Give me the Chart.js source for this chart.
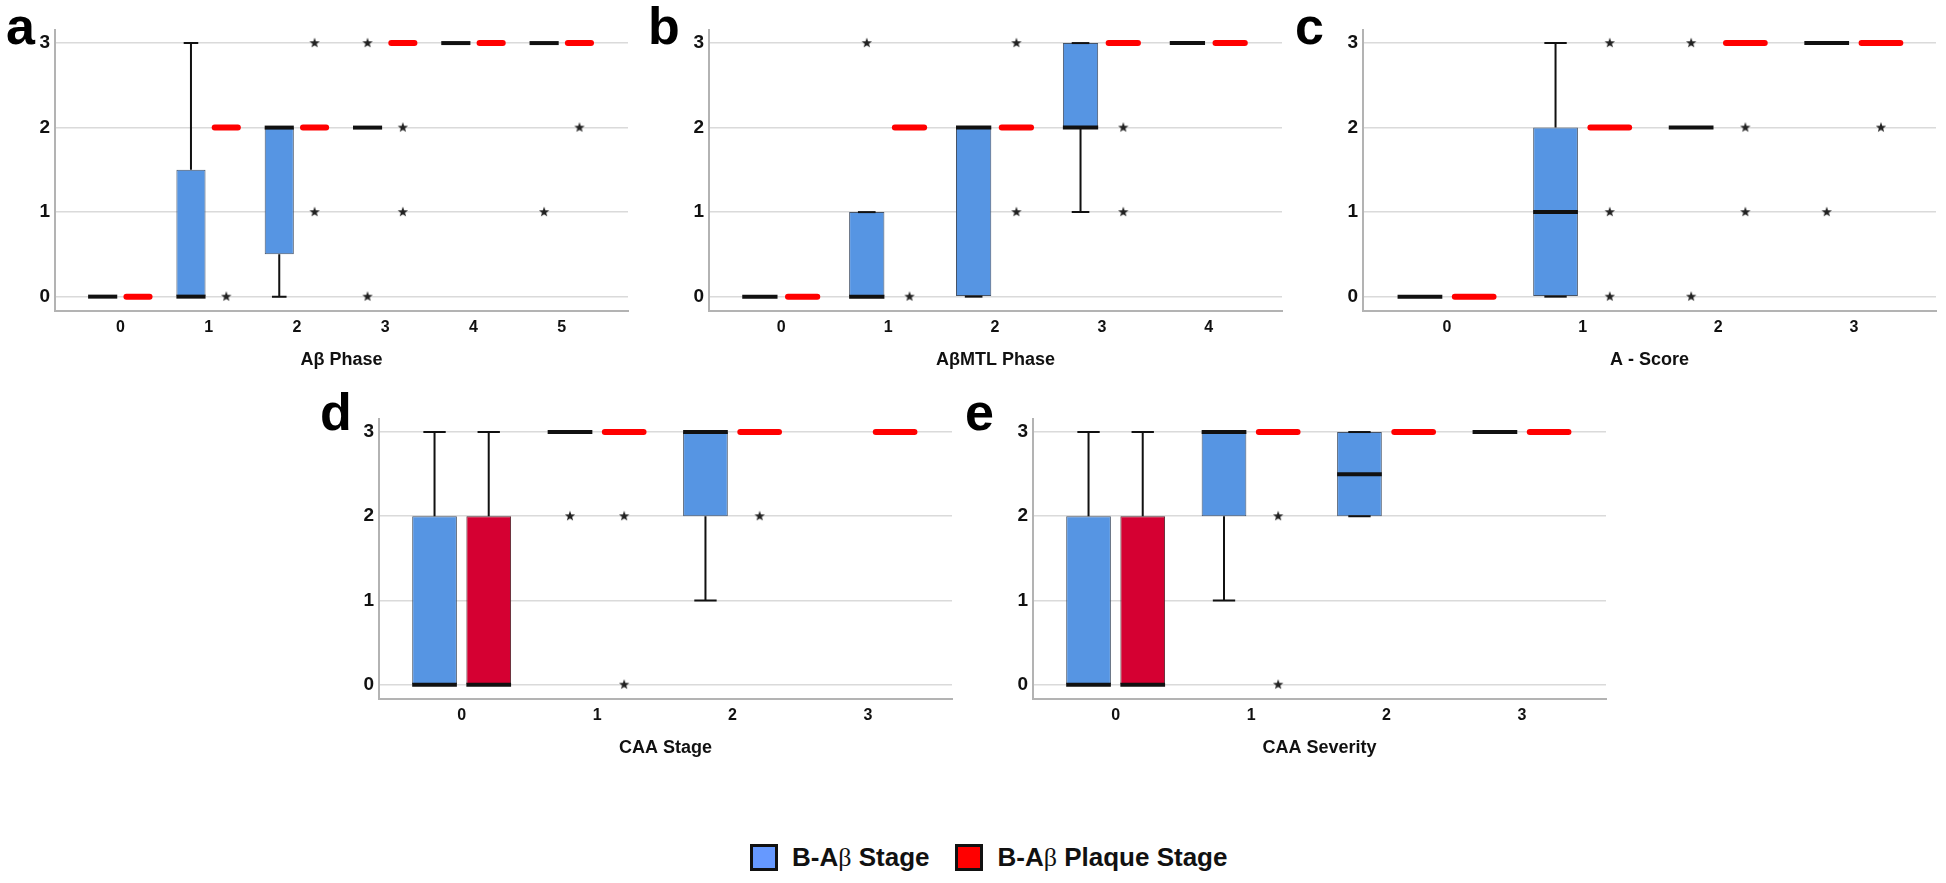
<!DOCTYPE html>
<html>
<head>
<meta charset="utf-8">
<script src="https://cdn.jsdelivr.net/npm/chart.js@4.4.0/dist/chart.umd.min.js"></script>
<style>
body { margin: 0; width: 1946px; height: 883px; overflow: hidden; background: #fff; position: relative;
       font-family: "Liberation Sans", Arial, sans-serif; color: #111; }
canvas { position: absolute; }
.tag { position: absolute; font-weight: bold; font-size: 52px; line-height: 52px; color: #000; }
.legend { position: absolute; top: 844px; left: 750px; height: 27px; display: flex; align-items: center;
          font-weight: bold; font-size: 26px; white-space: nowrap; }
.sw { width: 22px; height: 21px; border: 3px solid #111; display: inline-block; }
.beta { font-family: "Liberation Serif", serif; font-weight: normal; }
</style>
</head>
<body>
<div class="tag" style="left:6px;top:0px">a</div>
<div class="tag" style="left:648px;top:0px">b</div>
<div class="tag" style="left:1295px;top:0px">c</div>
<div class="tag" style="left:320px;top:386px">d</div>
<div class="tag" style="left:965px;top:386px">e</div>

<canvas id="pa" width="633" height="371" style="left:0px;top:14px"></canvas>
<canvas id="pb" width="633" height="371" style="left:654px;top:14px"></canvas>
<canvas id="pc" width="633" height="371" style="left:1308px;top:14px"></canvas>
<canvas id="pd" width="633" height="370" style="left:324px;top:403px"></canvas>
<canvas id="pe" width="633" height="370" style="left:978px;top:403px"></canvas>

<div class="legend">
  <span class="sw" style="background:#6699ff"></span>
  <span style="margin-left:14px">B-A<span class="beta">β</span> Stage</span>
  <span class="sw" style="background:#ff0000;margin-left:26px"></span>
  <span style="margin-left:14px">B-A<span class="beta">β</span> Plaque Stage</span>
</div>

<script>
const yTicks = [0, 1, 2, 3];

// cada caja: [bigote inferior, q1, mediana, q3, bigote superior]
// a - Aβ Phase
const aCats = ['0', '1', '2', '3', '4', '5'];
const aBlue = [[0,0,0,0,0], [0,0,0,1.5,3], [0,0.5,2,2,2], [2,2,2,2,2], [3,3,3,3,3], [3,3,3,3,3]];
const aRed = [[0,0,0,0,0], [2,2,2,2,2], [2,2,2,2,2], [3,3,3,3,3], [3,3,3,3,3], [3,3,3,3,3]];
const aBlueOut = [[], [], [], [3, 0], [], [1]];
const aRedOut = [[], [0], [3, 1], [2, 1], [], [2]];

// b - AβMTL Phase
const bCats = ['0', '1', '2', '3', '4'];
const bBlue = [[0,0,0,0,0], [0,0,0,1,1], [0,0,2,2,2], [1,2,2,3,3], [3,3,3,3,3]];
const bRed = [[0,0,0,0,0], [2,2,2,2,2], [2,2,2,2,2], [3,3,3,3,3], [3,3,3,3,3]];
const bBlueOut = [[], [3], [], [], []];
const bRedOut = [[], [0], [3, 1], [2, 1], []];

// c - A - Score
const cCats = ['0', '1', '2', '3'];
const cBlue = [[0,0,0,0,0], [0,0,1,2,3], [2,2,2,2,2], [3,3,3,3,3]];
const cRed = [[0,0,0,0,0], [2,2,2,2,2], [3,3,3,3,3], [3,3,3,3,3]];
const cBlueOut = [[], [], [3, 0], [1]];
const cRedOut = [[], [3, 1, 0], [2, 1], [2]];

// d - CAA Stage
const dCats = ['0', '1', '2', '3'];
const dBlue = [[0,0,0,2,3], [3,3,3,3,3], [1,2,3,3,3], null];
const dRed = [[0,0,0,2,3], [3,3,3,3,3], [3,3,3,3,3], [3,3,3,3,3]];
const dBlueOut = [[], [2], [], []];
const dRedOut = [[], [2, 0], [2], []];

// e - CAA Severity
const eCats = ['0', '1', '2', '3'];
const eBlue = [[0,0,0,2,3], [1,2,3,3,3], [2,2,2.5,3,3], [3,3,3,3,3]];
const eRed = [[0,0,0,2,3], [3,3,3,3,3], [3,3,3,3,3], [3,3,3,3,3]];
const eBlueOut = [[], [], [], []];
const eRedOut = [[], [2, 0], [], []];

const OFF = 0.2;     // desplazamiento de cada serie dentro de la categoria
const BOXW = 0.33;   // ancho de caja en unidades de categoria

Chart.defaults.font.family = '"Liberation Sans", Arial, sans-serif';
Chart.defaults.color = '#111';

function starImage() {
    const c = document.createElement('canvas');
    c.width = 12; c.height = 12;
    const g = c.getContext('2d');
    g.fillStyle = '#222';
    g.beginPath();
    for (let k = 0; k < 10; k++) {
        const r = k % 2 ? 2.2 : 5.4;
        const a = -Math.PI / 2 + k * Math.PI / 5;
        g.lineTo(6 + r * Math.cos(a), 6 + r * Math.sin(a));
    }
    g.closePath();
    g.fill();
    return c;
}
const star = starImage();

// bigotes, medianas y guiones de cajas degeneradas
function boxPlugin(series) {
    return {
        id: 'boxes',
        afterDatasetsDraw(chart) {
            const {ctx, scales: {x, y}} = chart;
            const band = x.getPixelForValue(1) - x.getPixelForValue(0);
            const half = band * BOXW / 2;
            const cap = half / 2;
            ctx.save();
            series.forEach(sr => sr.stats.forEach((s, i) => {
                if (!s) return;
                const cx = x.getPixelForValue(i + sr.off);
                const ym = y.getPixelForValue(s[2]);
                if (s[1] === s[3]) {
                    ctx.beginPath();
                    if (sr.red) {
                        ctx.strokeStyle = '#ff0000';
                        ctx.lineWidth = 6;
                        ctx.lineCap = 'round';
                        ctx.moveTo(cx - half + 3, ym);
                        ctx.lineTo(cx + half - 3, ym);
                    } else {
                        ctx.strokeStyle = '#111';
                        ctx.lineWidth = 4;
                        ctx.lineCap = 'butt';
                        ctx.moveTo(cx - half, ym);
                        ctx.lineTo(cx + half, ym);
                    }
                    ctx.stroke();
                    return;
                }
                ctx.strokeStyle = '#111';
                ctx.lineCap = 'butt';
                ctx.lineWidth = 2;
                [[s[0], s[1]], [s[4], s[3]]].forEach(([end, edge]) => {
                    const ye = y.getPixelForValue(end);
                    ctx.beginPath();
                    ctx.moveTo(cx, y.getPixelForValue(edge));
                    ctx.lineTo(cx, ye);
                    ctx.moveTo(cx - cap, ye);
                    ctx.lineTo(cx + cap, ye);
                    ctx.stroke();
                });
                ctx.lineWidth = 4;
                ctx.beginPath();
                ctx.moveTo(cx - half, ym);
                ctx.lineTo(cx + half, ym);
                ctx.stroke();
            }));
            ctx.restore();
        }
    };
}

function cajas(stats) {
    return stats.map((s, i) => ({x: i, y: s && s[1] !== s[3] ? [s[1], s[3]] : null}));
}

function atipicos(out, off) {
    const pts = [];
    out.forEach((vals, i) => vals.forEach(v => pts.push({x: i + off, y: v})));
    return pts;
}

function crearPanel(id, cats, blue, red, blueOut, redOut, xMin, xMax, titulo) {
    return new Chart(document.getElementById(id), {
        type: 'bar',
        data: {
            datasets: [{
                label: 'B-Aβ Stage',
                data: cajas(blue),
                backgroundColor: 'rgb(86,149,227)',
                borderColor: 'rgb(70,84,104)',
                borderWidth: 1,
                borderSkipped: false,
                categoryPercentage: 0.8,
                barPercentage: 0.825
            }, {
                label: 'B-Aβ Plaque Stage',
                data: cajas(red),
                backgroundColor: 'rgb(213,0,50)',
                borderColor: 'rgb(90,40,50)',
                borderWidth: 1,
                borderSkipped: false,
                categoryPercentage: 0.8,
                barPercentage: 0.825
            }, {
                type: 'scatter',
                data: atipicos(blueOut, -OFF),
                pointStyle: star
            }, {
                type: 'scatter',
                data: atipicos(redOut, OFF),
                pointStyle: star
            }]
        },
        options: {
            responsive: false,
            animation: false,
            events: [],
            layout: {padding: {top: 10, left: 0, right: 0, bottom: 0}},
            plugins: {legend: {display: false}, tooltip: {enabled: false}},
            scales: {
                x: {
                    type: 'linear',
                    min: xMin,
                    max: xMax,
                    offset: false,
                    grid: {display: false, drawTicks: false},
                    border: {display: true, color: '#b3b3b3', width: 2},
                    afterBuildTicks: sc => { sc.ticks = cats.map((c, i) => ({value: i})); },
                    afterFit: sc => { sc.height = 74; },
                    ticks: {
                        autoSkip: false,
                        maxRotation: 0,
                        padding: 7,
                        color: '#111',
                        font: {size: 16, weight: 'bold'},
                        callback: v => cats[v]
                    },
                    title: {
                        display: true,
                        text: titulo,
                        color: '#111',
                        font: {size: 18, weight: 'bold'},
                        padding: {top: 0, bottom: 14}
                    }
                },
                y: {
                    min: -0.17,
                    max: 3.15,
                    afterBuildTicks: sc => { sc.ticks = yTicks.map(v => ({value: v})); },
                    afterFit: sc => { sc.width = 55; },
                    grid: {color: '#dadada', lineWidth: 1.5, drawTicks: false},
                    border: {display: true, color: '#b3b3b3', width: 2},
                    ticks: {padding: 5, color: '#111', font: {size: 19, weight: 'bold'}}
                }
            }
        },
        plugins: [boxPlugin([{stats: blue, off: -OFF, red: false}, {stats: red, off: OFF, red: true}])]
    });
}

crearPanel('pa', aCats, aBlue, aRed, aBlueOut, aRedOut, -0.74, 5.75, 'Aβ Phase');
crearPanel('pb', bCats, bBlue, bRed, bBlueOut, bRedOut, -0.676, 4.685, 'AβMTL Phase');
crearPanel('pc', cCats, cBlue, cRed, cBlueOut, cRedOut, -0.62, 3.606, 'A - Score');
crearPanel('pd', dCats, dBlue, dRed, dBlueOut, dRedOut, -0.61, 3.62, 'CAA Stage');
crearPanel('pe', eCats, eBlue, eRed, eBlueOut, eRedOut, -0.61, 3.62, 'CAA Severity');
</script>
</body>
</html>
